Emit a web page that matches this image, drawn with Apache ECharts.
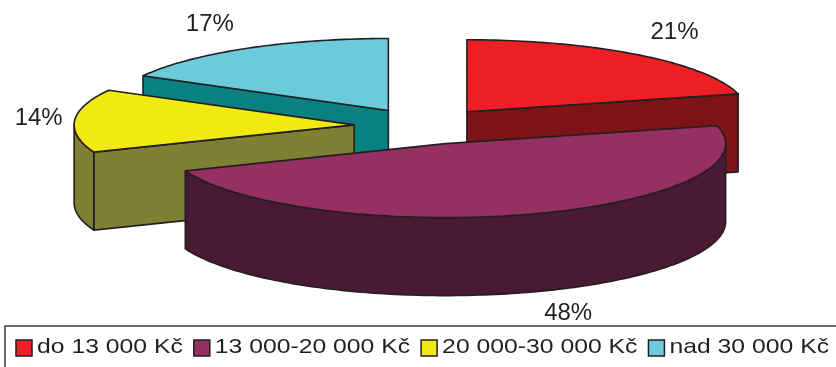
<!DOCTYPE html>
<html>
<head>
<meta charset="utf-8">
<script src="https://cdn.jsdelivr.net/npm/echarts@6/dist/echarts.min.js"></script>
<style>
  html, body { margin: 0; padding: 0; background: #ffffff; }
  #chart { width: 836px; height: 367px; }
</style>
</head>
<body>
<div id="chart"></div>
<script>
// Income bands and their shares (percent)
const categories = ['do 13 000 Kč', '13 000-20 000 Kč', '20 000-30 000 Kč', 'nad 30 000 Kč'];
const shares = [21, 48, 14, 17];
const topColors = ['#ed1f24', '#973062', '#f2e913', '#6ccbdb'];
const sideColors = ['#7c1417', '#4a1a34', '#808035', '#088180'];

// Projection of the tilted, extruded pie
const geo = { cx: 424, cy: 126, rx: 280, ryBack: 72, ryFront: 74, depth: 78, explode: 0.25 };
const INK = '#231f20';
const FONT = '"Liberation Sans", Arial, sans-serif';

const total = shares.reduce((a, b) => a + b, 0);
const angles = [];
let acc = 0;
shares.forEach(v => {
  const a0 = acc / total * Math.PI * 2;
  acc += v;
  const a1 = acc / total * Math.PI * 2;
  angles.push([a0, a1, (a0 + a1) / 2]);
});

// angle measured clockwise from 12 o'clock; r is a fraction of the radius
function proj(theta, r, ox, oy, dz) {
  const c = Math.cos(theta);
  const ry = c > 0 ? geo.ryBack : geo.ryFront;
  return [ox + r * geo.rx * Math.sin(theta), oy - r * ry * c + (dz || 0)];
}
function arc(a, b, ox, oy, dz) {
  const n = Math.max(4, Math.ceil((b - a) / 0.02));
  const pts = [];
  for (let i = 0; i <= n; i++) pts.push(proj(a + (b - a) * i / n, 1, ox, oy, dz));
  return pts;
}
function apexOf(i) {
  return proj(angles[i][2], geo.explode, geo.cx, geo.cy);
}

// back-to-front drawing order
const order = shares.map((_, i) => i).sort((p, q) => apexOf(p)[1] - apexOf(q)[1]);
const rank = [];
order.forEach((idx, k) => { rank[idx] = k; });

function renderItem(params, api) {
  const i = params.dataIndex;
  const value = api.value(0);
  const [a0, a1, mid] = angles[i];
  const [ox, oy] = apexOf(i);
  const D = geo.depth;
  const base = rank[i] * 10;
  const lineStyle = { stroke: INK, lineWidth: 1.6, lineJoin: 'round' };
  const children = [];

  const radialFace = (a) => {
    const rim = proj(a, 1, ox, oy);
    return {
      type: 'polygon', z2: base + 1,
      shape: { points: [[ox, oy], rim, [rim[0], rim[1] + D], [ox, oy + D]] },
      style: Object.assign({ fill: sideColors[i] }, lineStyle)
    };
  };
  // cut faces that turn towards the viewer
  if (Math.sin(a0) < -1e-6) children.push(radialFace(a0));
  if (Math.sin(a1) > 1e-6) children.push(radialFace(a1));

  // outer wall on the front half
  const s = Math.max(a0, Math.PI / 2), e = Math.min(a1, Math.PI * 1.5);
  if (e > s) {
    const topArc = arc(s, e, ox, oy, 0);
    const botArc = arc(s, e, ox, oy, D).reverse();
    children.push({
      type: 'polygon', z2: base + 2,
      shape: { points: topArc.concat(botArc) },
      style: Object.assign({ fill: sideColors[i] }, lineStyle)
    });
  }

  // top face
  children.push({
    type: 'polygon', z2: base + 3,
    shape: { points: [[ox, oy]].concat(arc(a0, a1, ox, oy, 0)) },
    style: Object.assign({ fill: topColors[i] }, lineStyle)
  });

  // percentage label beside the rim
  const front = Math.cos(mid) < 0;
  const rim = proj(mid, 1, ox, oy, front ? D : 0);
  const sx = Math.sin(mid) >= 0 ? 1 : -1;
  children.push({
    type: 'text', z2: 100,
    style: {
      x: rim[0] + sx * 36,
      y: rim[1] - Math.cos(mid) * (front ? 22 : 28),
      text: value + '%',
      font: '24px ' + FONT,
      fill: INK,
      align: 'center',
      verticalAlign: 'middle'
    }
  });

  return { type: 'group', children };
}

// Legend row, drawn as graphic elements inside a framed box
const legendFont = '21px ' + FONT;
const measure = document.createElement('canvas').getContext('2d');
measure.font = legendFont;
const textWidths = categories.map(t => measure.measureText(t).width);
const legend = { x0: 16, x1: 829, y: 348, box: 16, textGap: 5, itemGap: 11 };
const stretch = (legend.x1 - legend.x0 - categories.length * (legend.box + legend.textGap)
  - (categories.length - 1) * legend.itemGap) / textWidths.reduce((a, b) => a + b, 0);

const graphics = [{
  type: 'rect',
  shape: { x: 5, y: 326, width: 860, height: 80 },
  style: { fill: 'none', stroke: '#3a3a3a', lineWidth: 1.5 },
  silent: true
}];
let cursor = legend.x0;
categories.forEach((name, i) => {
  graphics.push({
    type: 'rect',
    shape: { x: cursor, y: legend.y - legend.box / 2, width: legend.box, height: legend.box },
    style: { fill: topColors[i], stroke: INK, lineWidth: 1.5 }
  });
  cursor += legend.box + legend.textGap;
  graphics.push({
    type: 'text',
    x: cursor, y: legend.y - 1,
    scaleX: stretch,
    style: { x: 0, y: 0, text: name, font: legendFont, fill: INK, verticalAlign: 'middle', align: 'left' }
  });
  cursor += textWidths[i] * stretch + legend.itemGap;
});

const chart = echarts.init(document.getElementById('chart'), null, { renderer: 'canvas' });
chart.setOption({
  animation: false,
  backgroundColor: '#ffffff',
  graphic: graphics,
  series: [{
    type: 'custom',
    coordinateSystem: 'none',
    renderItem: renderItem,
    data: shares.map((v, i) => ({ name: categories[i], value: [v] }))
  }]
});
</script>
</body>
</html>
